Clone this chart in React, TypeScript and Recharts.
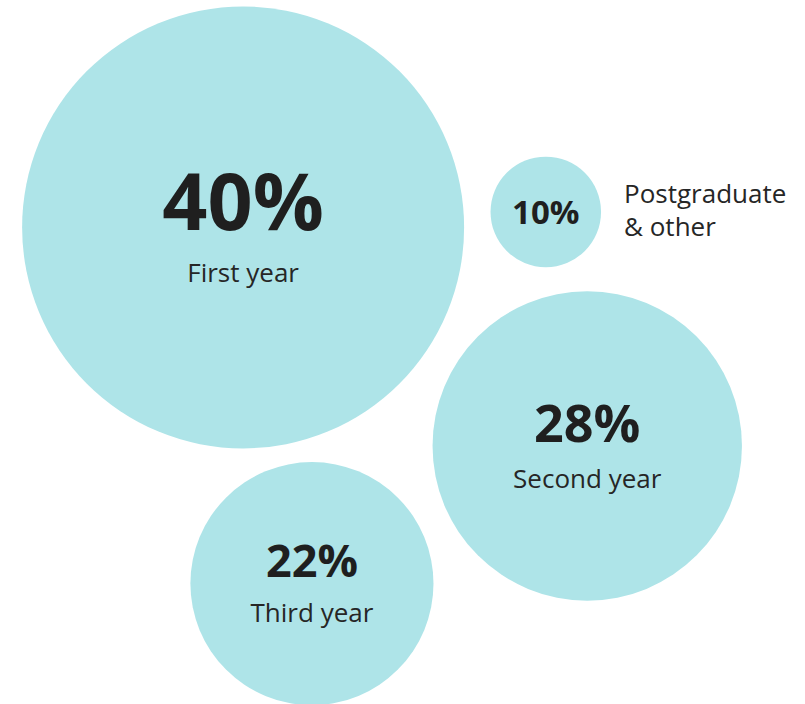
import React from "react";
import { ScatterChart, Scatter, XAxis, YAxis, ZAxis } from "recharts";

// Data
const categories = ["First year", "Postgraduate & other", "Second year", "Third year"];
const shares = [40, 10, 28, 22];
// layout of the packed bubbles, in 0–100 layout units
const layoutX = [30.2, 67.8, 72.95, 38.75];
const layoutY = [32.3, 30.1, 63.35, 82.9];

const data = categories.map((name, i) => ({
  name,
  value: shares[i],
  lx: layoutX[i],
  ly: layoutY[i],
}));

const FILL = "#AEE4E8";
const TEXT = "#1F1F1F";
const NAME_TEXT = "#262626";
const FONT = "'Open Sans', 'Noto Sans', sans-serif";
const NAME_SIZE = 26;

const pctFontFor = (r: number) => {
  if (r >= 200) return 79;
  if (r >= 140) return 52;
  if (r >= 100) return 45;
  return 33;
};

const Bubble = (props: any) => {
  const { cx, cy, size, payload } = props;
  const r = size;
  const fs = pctFontFor(r);
  const pct = `${payload.value}%`;
  const inside = r >= 80;
  if (inside) {
    const gap = 36 + 0.2 * fs;
    const base = cy - (gap - 0.72 * fs) / 2;
    return (
      <g>
        <circle cx={cx} cy={cy} r={r} fill={FILL} />
        <text x={cx} y={base} textAnchor="middle" fontFamily={FONT} fontWeight={700} fontSize={fs} fill={TEXT}>
          {pct}
        </text>
        <text x={cx} y={base + gap} textAnchor="middle" fontFamily={FONT} fontSize={NAME_SIZE} fill={NAME_TEXT}>
          {payload.name}
        </text>
      </g>
    );
  }
  const lines = payload.name.replace(" & ", "\n& ").split("\n");
  return (
    <g>
      <circle cx={cx} cy={cy} r={r} fill={FILL} />
      <text x={cx} y={cy + 0.36 * fs} textAnchor="middle" fontFamily={FONT} fontWeight={700} fontSize={fs} fill={TEXT}>
        {pct}
      </text>
      {lines.map((l: string, i: number) => (
        <text key={i} x={cx + r + 23} y={cy - 9 + i * 33} textAnchor="start" fontFamily={FONT} fontSize={NAME_SIZE} fill={NAME_TEXT}>
          {l}
        </text>
      ))}
    </g>
  );
};

export default function App() {
  return (
    <div style={{ position: "absolute", left: 0, top: 0, background: "#fff" }}>
      <ScatterChart width={805} height={704} margin={{ top: 0, right: 0, bottom: 0, left: 0 }}>
        <XAxis type="number" dataKey="lx" domain={[0, 100]} hide />
        <YAxis type="number" dataKey="ly" domain={[0, 100]} reversed hide />
        <ZAxis type="number" dataKey="value" domain={[0, 40]} range={[0, 221]} />
        <Scatter data={data} shape={<Bubble />} isAnimationActive={false} />
      </ScatterChart>
    </div>
  );
}
